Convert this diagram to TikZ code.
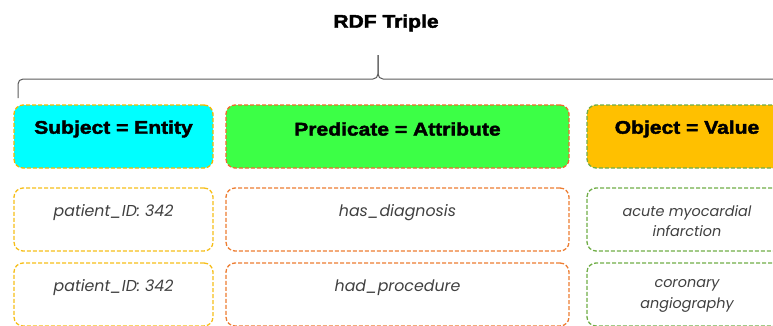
\documentclass[tikz,border=0pt]{standalone}
\usepackage{fontspec}
\setmainfont{Liberation Sans}
\newfontfamily\hdrfont{Liberation Sans}[BoldFeatures={FakeBold=2.2,FakeStretch=1.15}]
\newfontfamily\bodyfont{Poppins}
\definecolor{cyanfill}{HTML}{00FFFF}
\definecolor{greenfill}{HTML}{3CFF46}
\definecolor{goldfill}{HTML}{FFC000}
\definecolor{yelline}{HTML}{F5B700}
\definecolor{orline}{HTML}{ED7D31}
\definecolor{grline}{HTML}{70AD47}
\definecolor{bracegray}{HTML}{5A5A5A}
\tikzset{
  box/.style={draw, line width=1.3pt, dash pattern=on 4pt off 2pt, rounded corners=9pt, minimum height=63pt, inner sep=0pt},
  htext/.style={font=\hdrfont\bfseries\fontsize{18.3}{20}\selectfont, inner sep=0pt},
  btext/.style={font=\bodyfont\itshape\fontsize{15.8}{20}\selectfont, text=black!75, inner sep=0pt, align=center},
}
\begin{document}
\begin{tikzpicture}[x=1pt,y=-1pt]
\useasboundingbox (0,0) rectangle (773,325);
% title
\node[htext] (title) at (386,23) {RDF Triple};
% brace
\coordinate (bl) at (18,98);
\coordinate (bm) at (378,55);
\coordinate (br) at (800,79);
\draw[bracegray, line width=1pt, rounded corners=5pt] (bl) -- (18,79) -- (378,79) -- (bm);
\draw[bracegray, line width=1pt, rounded corners=5pt] (bm) -- (378,79) -- (br);
% header boxes
\node[box, draw=yelline, fill=cyanfill, minimum width=199pt] (sh) at (113.5,136.5) {};
\node[box, draw=orline!85!red, fill=greenfill, minimum width=343pt] (ph) at (397.5,136.5) {};
\node[box, draw=grline, fill=goldfill, minimum width=200pt] (oh) at (687,136.5) {};
\node[htext] (sht) at (113.5,129) {Subject = Entity};
\node[htext] (pht) at (397.5,129) {Predicate = Attribute};
\node[htext] (oht) at (687,129) {Object = Value};
% row 1
\node[box, draw=yelline!90!white, minimum width=199pt] (s1) at (113.5,219.5) {};
\node[box, draw=orline, minimum width=343pt] (p1) at (397.5,219.5) {};
\node[box, draw=grline, minimum width=200pt] (o1) at (687,219.5) {};
\node[btext] (s1t) at (113.5,213) {patient\_ID: 342};
\node[btext] (p1t) at (397.5,213) {has\_diagnosis};
\node[btext, font=\bodyfont\itshape\fontsize{14.4}{20}\selectfont] (o1t) at (687,221) {acute myocardial\\infarction};
% row 2
\node[box, draw=yelline!90!white, minimum width=199pt] (s2) at (113.5,294.5) {};
\node[box, draw=orline, minimum width=343pt] (p2) at (397.5,294.5) {};
\node[box, draw=grline, minimum width=200pt] (o2) at (687,294.5) {};
\node[btext] (s2t) at (113.5,288) {patient\_ID: 342};
\node[btext] (p2t) at (397.5,288) {had\_procedure};
\node[btext, font=\bodyfont\itshape\fontsize{14.4}{21}\selectfont] (o2t) at (687,295.5) {coronary\\angiography};
\end{tikzpicture}
\end{document}
